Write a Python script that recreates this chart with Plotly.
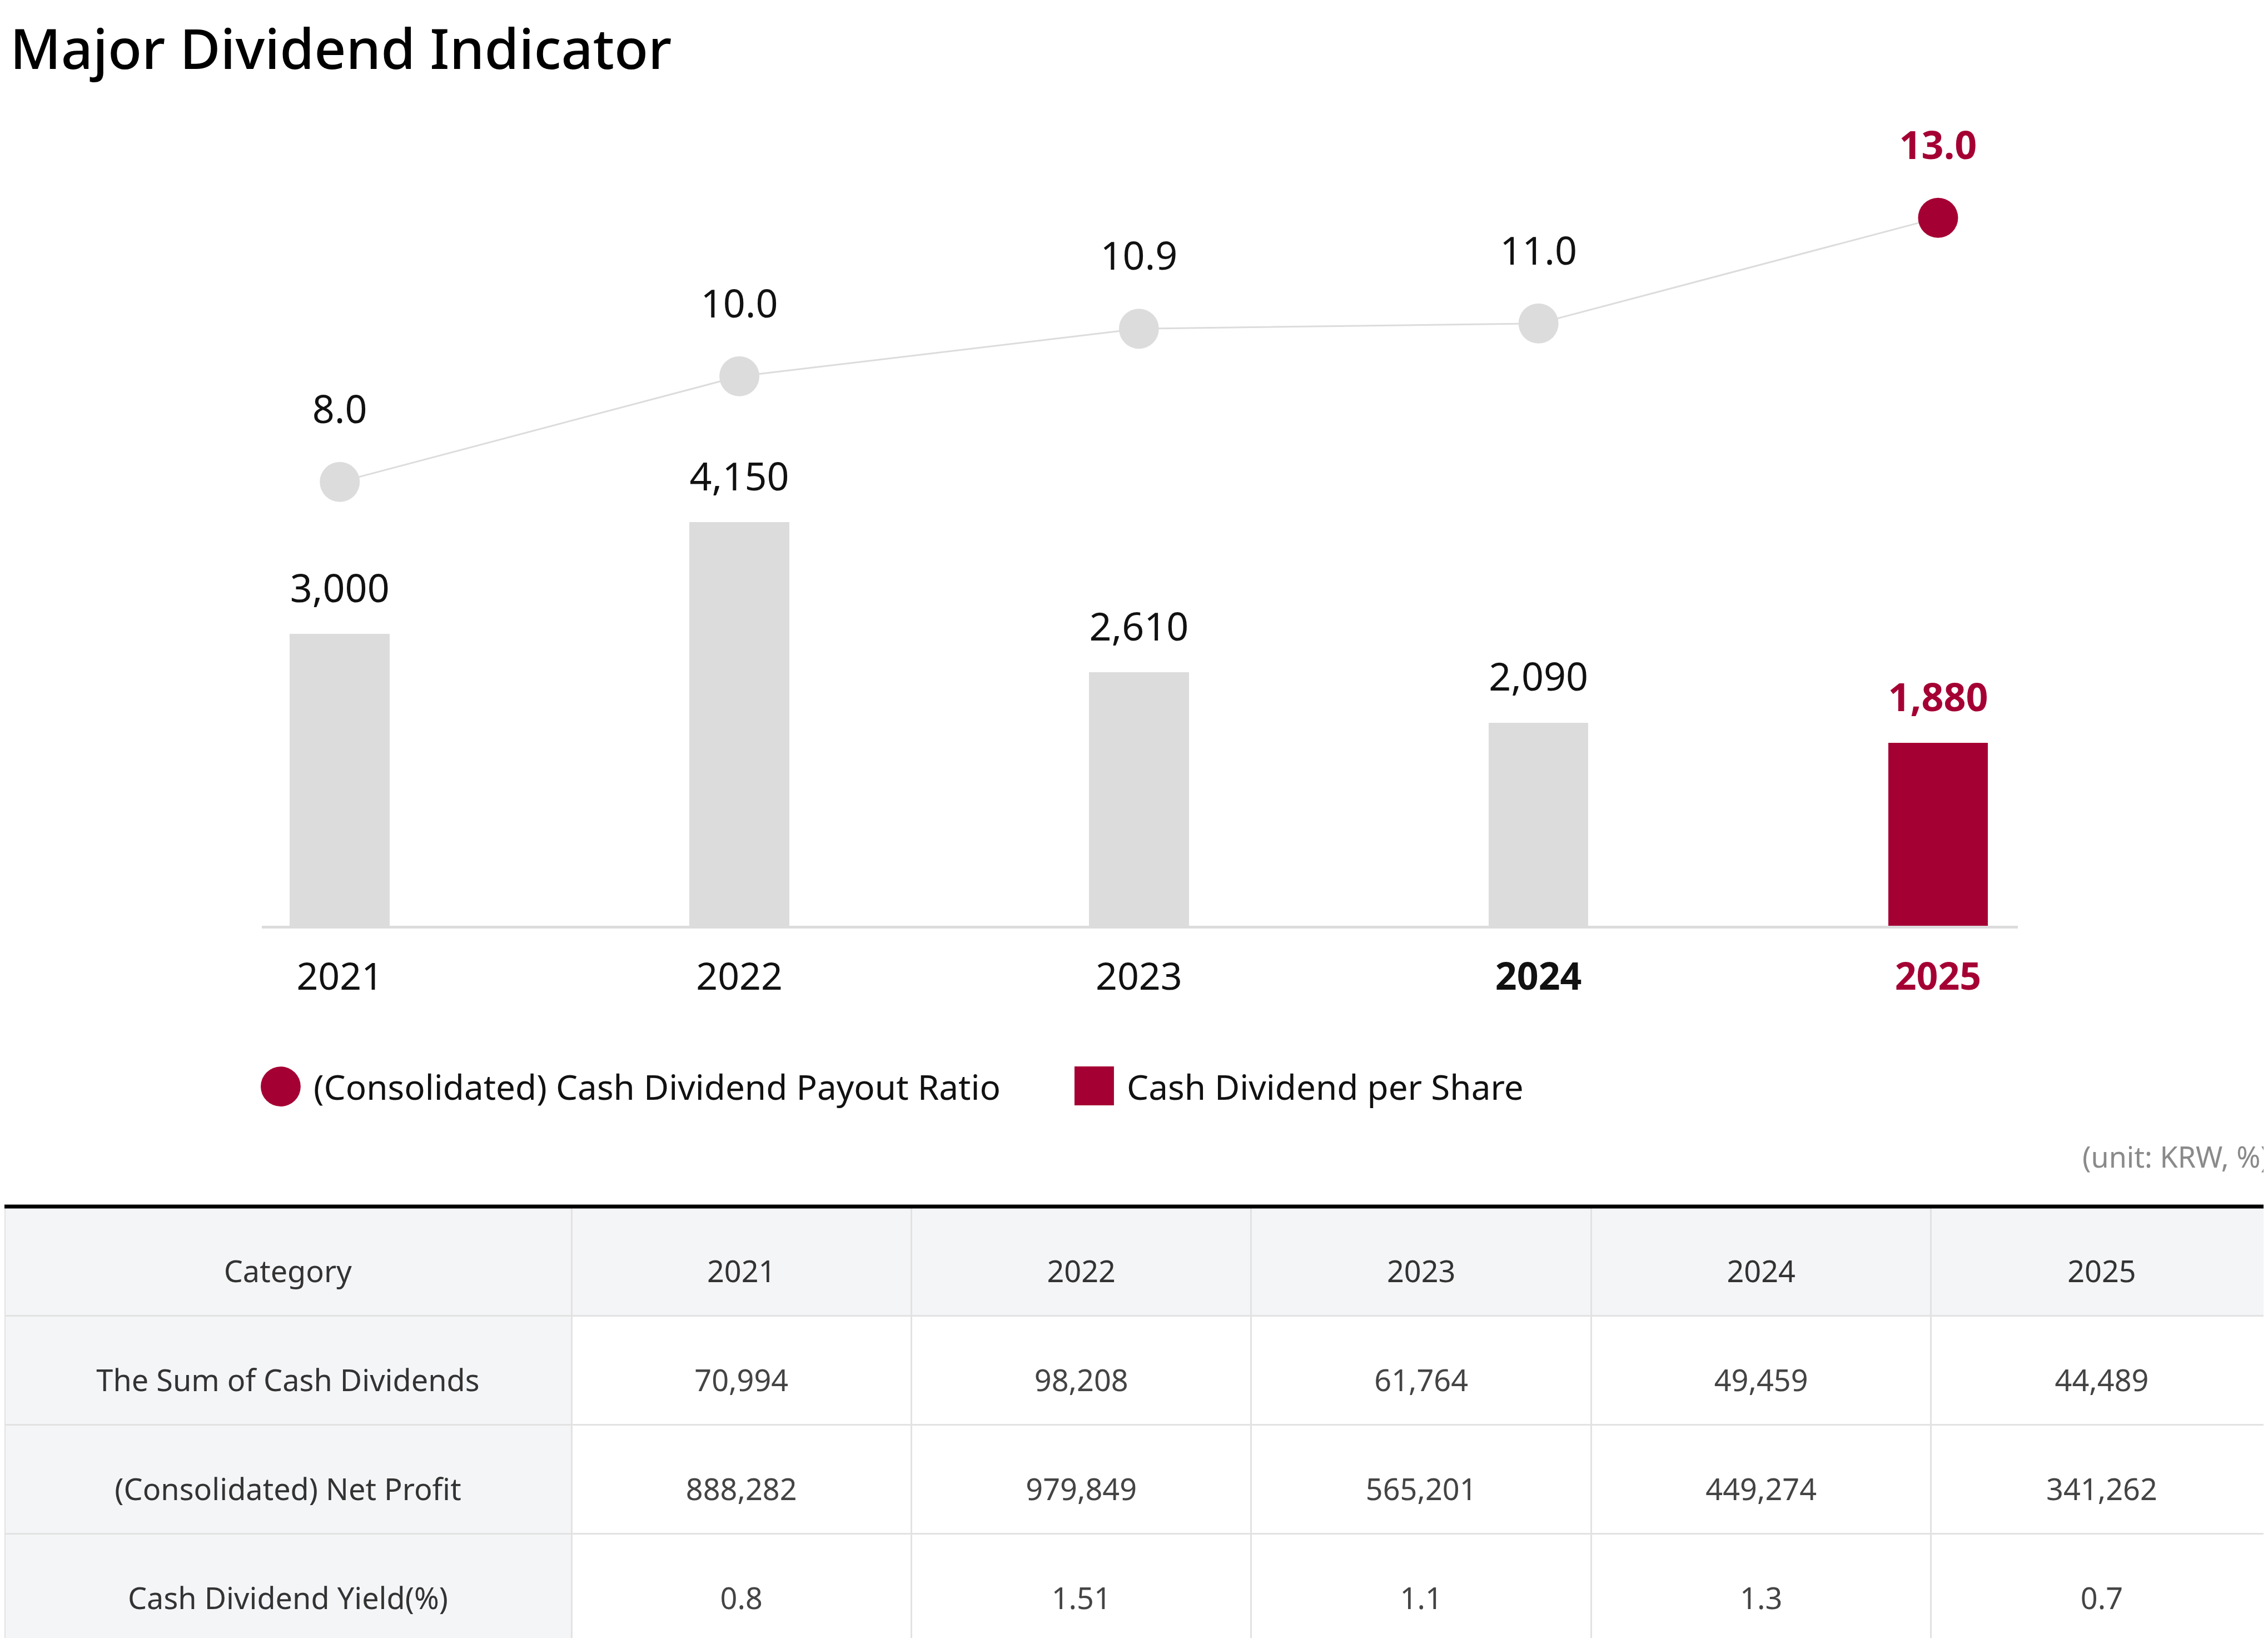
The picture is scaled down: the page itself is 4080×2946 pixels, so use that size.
import plotly.graph_objects as go

# Chart data.
years = ['2021', '2022', '2023', '2024', '2025']
dps = [3000, 4150, 2610, 2090, 1880]            # Cash Dividend per Share (KRW)
payout = [8.0, 10.0, 10.9, 11.0, 13.0]           # (Consolidated) Cash Dividend Payout Ratio (%)

# Table data.
table_header = ['Category'] + years
row_labels = ['The Sum of Cash Dividends', '(Consolidated) Net Profit', 'Cash Dividend Yield(%)']
sum_dividends = ['70,994', '98,208', '61,764', '49,459', '44,489']
net_profit = ['888,282', '979,849', '565,201', '449,274', '341,262']
div_yield = ['0.8', '1.51', '1.1', '1.3', '0.7']

RED = '#a50034'
GREY = '#dcdcdc'
FONT = 'Noto Sans'

n = len(years)
bar_colors = [GREY] * (n - 1) + [RED]
text_colors = ['#111111'] * (n - 1) + [RED]
dps_text = [f'{v:,}' for v in dps[:-1]] + [f'<b>{dps[-1]:,}</b>']
payout_text = [f'{v:.1f}' for v in payout[:-1]] + [f'<b>{payout[-1]:.1f}</b>']
tick_text = years[:-2] + [f'<b>{years[-2]}</b>',
                          f"<b><span style='color:{RED}'>{years[-1]}</span></b>"]


def centred(values):
    # plotly tables put text at the top of a cell; a blank first line drops it to the middle
    return ['\u00a0<br>' + str(v) for v in values]


fig = go.Figure()

# Bars and their labels.
fig.add_trace(go.Bar(x=years, y=dps, width=0.25, marker_color=bar_colors,
                     marker_line_width=0, showlegend=False, hoverinfo='skip'))
fig.add_trace(go.Scatter(x=years, y=dps, mode='markers+text', text=dps_text,
                         textposition='top center', cliponaxis=False,
                         textfont=dict(size=70, color=text_colors, family=FONT),
                         marker=dict(size=62, opacity=0), showlegend=False,
                         hoverinfo='skip'))

# Payout ratio line on the second axis.
fig.add_trace(go.Scatter(x=years, y=payout, yaxis='y2', mode='lines+markers',
                         line=dict(color=GREY, width=3), cliponaxis=False,
                         marker=dict(size=72, color=bar_colors),
                         showlegend=False, hoverinfo='skip'))
fig.add_trace(go.Scatter(x=years, y=payout, yaxis='y2', mode='markers+text',
                         text=payout_text, textposition='top center', cliponaxis=False,
                         textfont=dict(size=70, color=text_colors, family=FONT),
                         marker=dict(size=140, opacity=0), showlegend=False,
                         hoverinfo='skip'))

# Table below the chart.
header_fill = '#f4f5f7'
fig.add_trace(go.Table(
    domain=dict(x=[0, 1], y=[0, 0.2661]),
    columnwidth=[392, 235, 235, 235, 235, 236],
    header=dict(values=centred(table_header), fill_color=header_fill,
                line=dict(color='#e2e2e2', width=3), align='center', height=196,
                font=dict(size=54, color='#333333', family=FONT)),
    cells=dict(values=[centred(row_labels)] +
                      [centred([sum_dividends[i], net_profit[i], div_yield[i]])
                       for i in range(n)],
               fill_color=[[header_fill] * 3] + [['white'] * 3] * n,
               line=dict(color='#e2e2e2', width=3), align='center', height=196,
               font=dict(size=54, color=['#333333'] + ['#444444'] * n, family=FONT)),
))

fig.update_layout(
    width=4080, height=2946,
    margin=dict(l=0, r=0, t=0, b=0),
    paper_bgcolor='white', plot_bgcolor='white',
    font=dict(family=FONT, color='#111111'),
    bargap=0,
    xaxis=dict(domain=[0.1135, 0.8878], type='category', range=[-0.195, 4.2],
               tickvals=years, ticktext=tick_text, showgrid=False,
               showline=True, linecolor=GREY, linewidth=5, ticks='',
               ticklabelstandoff=28,
               tickfont=dict(size=68, color='#111111', family=FONT)),
    yaxis=dict(domain=[0.4375, 0.9117], range=[0, 7990], visible=False),
    yaxis2=dict(overlaying='y', range=[-0.4, 14.3], visible=False),
    showlegend=False,
)

# Title.
fig.add_annotation(text='Major Dividend Indicator', x=0.002, y=0.974, xref='paper', yref='paper',
                   xanchor='left', yanchor='middle', showarrow=False,
                   font=dict(size=100, color='#000000', family=FONT, weight=500))

# Legend drawn by hand so the swatches match the chart's marker size.
fig.add_shape(type='circle', xref='paper', yref='paper', x0=0.1130, x1=0.1306,
              y0=0.3272, y1=0.3516, fillcolor=RED, line_width=0)
fig.add_annotation(text='(Consolidated) Cash Dividend Payout Ratio', x=0.1358, y=0.3394,
                   xref='paper', yref='paper', xanchor='left', yanchor='middle',
                   showarrow=False, font=dict(size=62, color='#111111', family=FONT))
fig.add_shape(type='rect', xref='paper', yref='paper', x0=0.4718, x1=0.4892,
              y0=0.3279, y1=0.3517, fillcolor=RED, line_width=0)
fig.add_annotation(text='Cash Dividend per Share', x=0.4943, y=0.3394,
                   xref='paper', yref='paper', xanchor='left', yanchor='middle',
                   showarrow=False, font=dict(size=62, color='#111111', family=FONT))

# Unit note and the heavy rule above the table.
fig.add_annotation(text='(unit: KRW, %)', x=0.999, y=0.297, xref='paper', yref='paper',
                   xanchor='right', yanchor='middle', showarrow=False,
                   font=dict(size=52, color='#8a8a8a', family=FONT))
fig.add_shape(type='line', xref='paper', yref='paper', x0=0, x1=1, y0=0.2661, y1=0.2661,
              line=dict(color='#000000', width=7))

fig.write_html('out.html')
